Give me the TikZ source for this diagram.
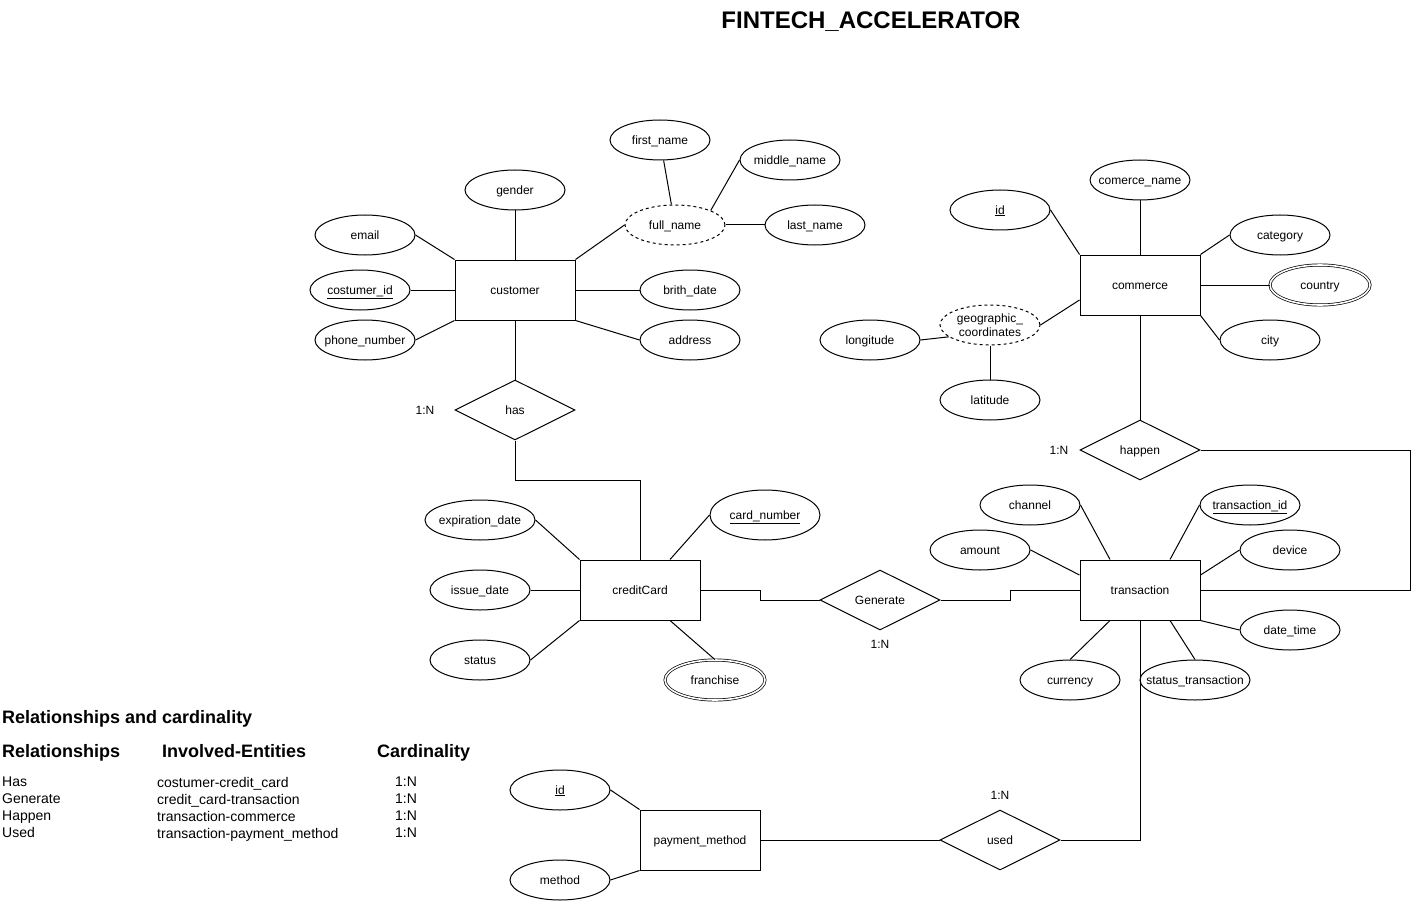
\documentclass[tikz,border=0pt]{standalone}
\usepackage{fontspec}
\setmainfont{Liberation Sans}
\usepackage{tikz}
\usetikzlibrary{shapes.geometric, positioning}
\newcommand{\fitlabel}[1]{\makebox[0pt]{#1}}
\tikzset{
  basebox/.style={
    draw=black, line width=1pt, align=center, inner sep=0pt, font=\fontsize{12}{14}\selectfont,
    text height=9pt, text depth=0.7pt
  },
  entitybox/.style={basebox, rectangle, minimum width=120pt, minimum height=60pt},
  attrell/.style={basebox, ellipse, minimum width=100pt, minimum height=40pt},
  wideattr/.style={attrell, minimum width=110pt},
  compattr/.style={attrell, dash pattern=on 3pt off 3pt},
  multiattr/.style={attrell, double, double distance=1.6pt, line width=0.7pt},
  relbox/.style={basebox, diamond, minimum width=120pt, minimum height=60pt},
  cardlabel/.style={inner sep=0pt, font=\fontsize{12}{14}\selectfont},
  legendtext/.style={inner sep=0pt, align=left, font=\fontsize{14}{17}\selectfont},
  legendhead/.style={inner sep=0pt, font=\fontsize{18}{21}\selectfont\bfseries},
  link/.style={line width=1pt}
}

\begin{document}
\begin{tikzpicture}[x=1pt, y=-1pt]
  \useasboundingbox (0,0) rectangle (1412,901);

  \node[anchor=base, font=\fontsize{24}{28}\selectfont\bfseries] (title) at (871,29) {FINTECH\_ACCELERATOR};

  % customer
  \node[entitybox] (customer) at (515,290) {customer};
  \node[attrell] (gender) at (515,190) {gender};
  \node[attrell] (email) at (365,235) {email};
  \node[attrell] (custid) at (360,290) {\underline{costumer\_id}};
  \node[attrell] (phone) at (365,340) {\fitlabel{phone\_number}};
  \node[compattr] (fullname) at (675,225) {full\_name};
  \node[attrell] (firstname) at (660,140) {first\_name};
  \node[attrell] (middlename) at (790,160) {\fitlabel{middle\_name}};
  \node[attrell] (lastname) at (815,225) {last\_name};
  \node[attrell] (brithdate) at (690,290) {brith\_date};
  \node[attrell] (address) at (690,340) {address};

  % commerce
  \node[entitybox] (commerce) at (1140,285) {commerce};
  \node[attrell] (comname) at (1140,180) {\fitlabel{comerce\_name}};
  \node[attrell] (comid) at (1000,210) {\underline{id}};
  \node[attrell] (category) at (1280,235) {category};
  \node[multiattr] (country) at (1320,285) {country};
  \node[attrell] (city) at (1270,340) {city};
  \node[compattr, text height={}, text depth={}] (geo) at (990,325) {geographic\_\\coordinates};
  \node[attrell] (longitude) at (870,340) {longitude};
  \node[attrell] (latitude) at (990,400) {latitude};

  % credit card
  \node[entitybox] (creditcard) at (640,590) {creditCard};
  \node[wideattr] (expdate) at (480,520) {\fitlabel{expiration\_date}};
  \node[attrell] (issuedate) at (480,590) {issue\_date};
  \node[attrell] (status) at (480,660) {status};
  \node[wideattr, minimum height=50pt] (cardnum) at (765,515) {\fitlabel{\underline{card\_number}}};
  \node[multiattr] (franchise) at (715,680) {franchise};

  % transaction
  \node[entitybox] (transaction) at (1140,590) {transaction};
  \node[attrell] (channel) at (1030,505) {channel};
  \node[attrell] (amount) at (980,550) {amount};
  \node[attrell] (tranid) at (1250,505) {\fitlabel{\underline{transaction\_id}}};
  \node[attrell] (device) at (1290,550) {device};
  \node[attrell] (datetime) at (1290,630) {date\_time};
  \node[attrell] (currency) at (1070,680) {currency};
  \node[wideattr] (statustr) at (1195,680) {\fitlabel{status\_transaction}};

  % payment method
  \node[entitybox] (payment) at (700,840) {payment\_method};
  \node[attrell] (payid) at (560,790) {\underline{id}};
  \node[attrell] (method) at (560,880) {method};

  % relationships
  \node[relbox] (has) at (515,410) {has};
  \node[relbox] (happen) at (1140,450) {happen};
  \node[relbox] (generate) at (880,600) {Generate};
  \node[relbox] (used) at (1000,840) {used};
  \node[cardlabel, left=20pt of has] (hascard) {1:N};
  \node[cardlabel, left=11pt of happen] (happencard) {1:N};
  \node[cardlabel, below=10pt of generate] (generatecard) {1:N};
  \node[cardlabel, above=10pt of used] (usedcard) {1:N};
  \coordinate (hasturn) at (515,480);
  \coordinate (happenturn) at (1410,450);

  \draw[link] (customer) -- (gender);
  \draw[link] (email.east) -- (customer.north west);
  \draw[link] (custid) -- (customer);
  \draw[link] (phone.east) -- (customer.south west);
  \draw[link] (customer.north east) -- (fullname.west);
  \draw[link] (customer) -- (brithdate);
  \draw[link] (customer.south east) -- (address.west);
  \draw[link] (firstname) -- (fullname);
  \draw[link] (middlename.west) -- (fullname.north east);
  \draw[link] (fullname) -- (lastname);

  \draw[link] (commerce) -- (comname);
  \draw[link] (comid.east) -- (commerce.north west);
  \draw[link] (category.west) -- (commerce.north east);
  \draw[link] (commerce) -- (country);
  \draw[link] (commerce.south east) -- (city.west);
  \draw[link] ([yshift=-15pt]commerce.west) -- (geo.east);
  \draw[link] (longitude.east) -- (geo.196);
  \draw[link] (geo) -- (latitude);

  \draw[link] (expdate.east) -- (creditcard.north west);
  \draw[link] (issuedate) -- (creditcard);
  \draw[link] (status.east) -- (creditcard.south west);
  \draw[link] (cardnum.west) -- ([xshift=30pt]creditcard.north);
  \draw[link] ([xshift=30pt]creditcard.south) -- (franchise.north);

  \draw[link] (channel.east) -- ([xshift=-30pt]transaction.north);
  \draw[link] (amount.east) -- ([yshift=15pt]transaction.west);
  \draw[link] (tranid.west) -- ([xshift=30pt]transaction.north);
  \draw[link] (device.west) -- ([yshift=15pt]transaction.east);
  \draw[link] (datetime.west) -- (transaction.south east);
  \draw[link] (currency.north) -- ([xshift=-30pt]transaction.south);
  \draw[link] (statustr.north) -- ([xshift=30pt]transaction.south);

  \draw[link] (payid.east) -- (payment.north west);
  \draw[link] (method.east) -- (payment.south west);

  \draw[link] (customer) -- (has);
  \draw[link] (has.south) -- (hasturn) -| (creditcard.north);
  \draw[link] (commerce) -- (happen);
  \draw[link] (happen.east) -- (happenturn) |- (transaction.east);
  \draw[link] (creditcard.east) -- ++(60,0) |- (generate.west);
  \draw[link] (generate.east) -- ++(70,0) |- (transaction.west);
  \draw[link] (transaction.south) |- (used.east);
  \draw[link] (used.west) -- (payment.east);

  % legend
  \node[legendhead, anchor=base west] (legendtitle) at (2,723) {Relationships and cardinality};
  \node[legendhead, anchor=base west] (relhead) at (2,757) {Relationships};
  \node[legendhead, anchor=base west] (enthead) at (162,757) {Involved-Entities};
  \node[legendhead, anchor=base west] (cardhead) at (377,757) {Cardinality};
  \node[legendtext, anchor=north west] (relcol) at (2,777) {Has\\Generate\\Happen\\Used};
  \node[legendtext, anchor=north west] (entcol) at (157,777)
        {costumer-credit\_card\\credit\_card-transaction\\transaction-commerce\\transaction-payment\_method};
  \node[legendtext, anchor=north west] (cardcol) at (395,777) {1:N\\1:N\\1:N\\1:N};
\end{tikzpicture}
\end{document}
